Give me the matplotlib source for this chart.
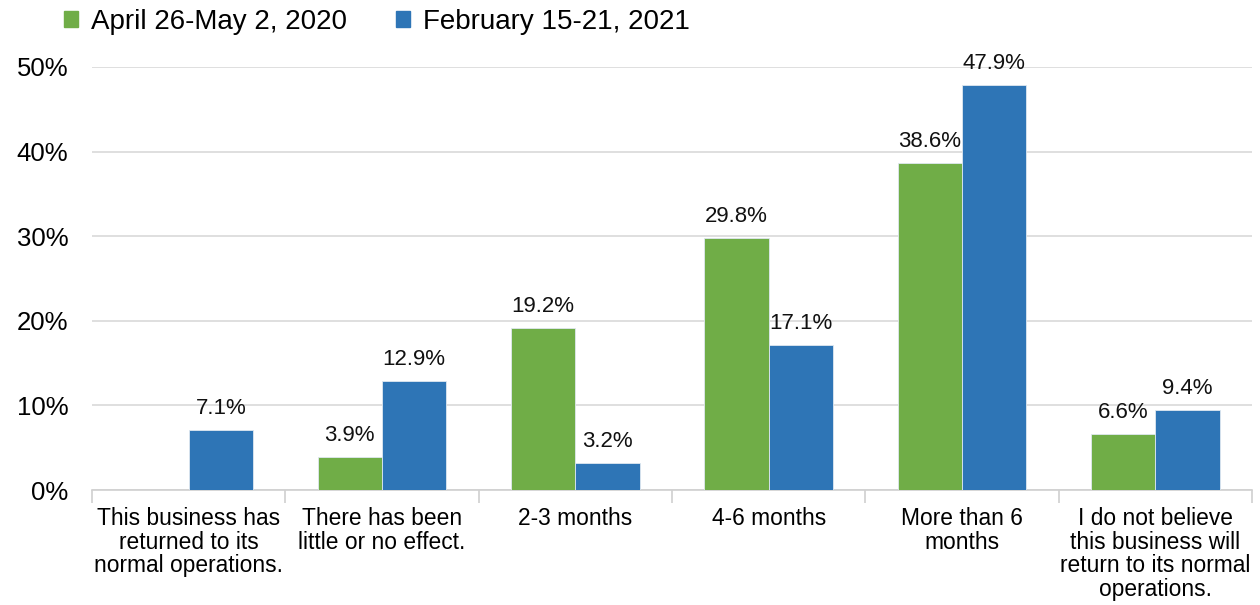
import matplotlib
matplotlib.use("Agg")
import matplotlib.pyplot as plt
import numpy as np
from matplotlib.patches import Patch

categories = [
    "This business has\nreturned to its\nnormal operations.",
    "There has been\nlittle or no effect.",
    "2-3 months",
    "4-6 months",
    "More than 6\nmonths",
    "I do not believe\nthis business will\nreturn to its normal\noperations.",
]
series_names = ["April 26-May 2, 2020", "February 15-21, 2021"]
values_2020 = [None, 3.9, 19.2, 29.8, 38.6, 6.6]
values_2021 = [7.1, 12.9, 3.2, 17.1, 47.9, 9.4]
yticks = [0, 10, 20, 30, 40, 50]

green = "#70AD47"
blue = "#2E75B6"

plt.rcParams['font.family'] = ['Liberation Sans', 'DejaVu Sans']

fig = plt.figure(figsize=(12.6, 6.05), dpi=100)
ax = fig.add_axes([92/1260, 1-490/605, (1252-92)/1260, (490-67)/605])

x = np.arange(len(categories))
w = 0.333
for vals, off, col in [(values_2020, -w/2, green), (values_2021, w/2, blue)]:
    for xi, v in zip(x, vals):
        if v is None:
            continue
        ax.bar(xi + off, v, width=w, color=col, edgecolor="#dfe8f0", linewidth=0.6, zorder=3)
        ax.text(xi + off, v + 1.3, f"{v:.1f}%", ha="center", va="bottom", fontsize=16, color="#111111")

ax.set_xlim(-0.5, len(categories) - 0.5)
ax.set_ylim(0, 50)
ax.set_yticks(yticks)
ax.set_yticklabels([f"{t}%" for t in yticks], fontsize=18.5)
ax.yaxis.grid(True, color="#d9d9d9", linewidth=1.2, zorder=0)
ax.set_axisbelow(True)
for s in ["top", "right", "left"]:
    ax.spines[s].set_visible(False)
ax.spines["bottom"].set_color("#d0d0d0")
ax.spines["bottom"].set_linewidth(1.2)
ax.tick_params(axis="y", length=0, pad=17)

ax.set_xticks(x)
ax.set_xticklabels(categories, fontsize=16.4, linespacing=1.05)
ax.tick_params(axis="x", length=0, pad=12)
# category boundary tick marks
ax.set_xticks(np.arange(len(categories) + 1) - 0.5, minor=True)
ax.tick_params(axis="x", which="minor", length=9, color="#d0d0d0", width=1.2)

handles = [Patch(color=green), Patch(color=blue)]
fig.legend(handles, series_names, loc="upper left", bbox_to_anchor=(0.031, 1.027),
           ncol=2, frameon=False, fontsize=20, handlelength=0.5, handleheight=0.5,
           handletextpad=0.47, columnspacing=1.75)

fig.savefig("out.png", dpi=100, facecolor="white")
